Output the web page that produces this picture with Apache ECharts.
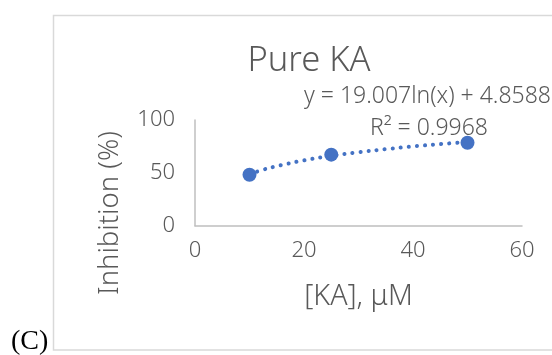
<!DOCTYPE html>
<html>
<head>
<meta charset="utf-8">
<script src="https://cdn.jsdelivr.net/npm/echarts@6/dist/echarts.min.js"></script>
<style>
html,body{margin:0;padding:0;background:#fff;}
#c{width:552px;height:355px;}
</style>
</head>
<body>
<div id="c"></div>
<script>
var titleText = "Pure KA";
var xName = "[KA], μM";
var yName = "Inhibition (%)";
var eqText = "y = 19.007ln(x) + 4.8588";
var r2Text = "R² = 0.9968";
var panelLabel = "(C)";
var concentrations = [10, 25, 50];
var inhibition = [48.2, 67.2, 78.5];
var trendX = [10, 12.5, 15, 20, 25, 30, 35, 40, 45, 50];
var trendY = [48.6, 52.9, 56.3, 61.8, 66.0, 69.5, 72.4, 75.0, 77.2, 79.2];
var xTicks = [0, 20, 40, 60];
var yTicks = [0, 50, 100];

var font = "'Noto Sans', sans-serif";
var w = '300 ';
var txt = "#595959";
var chart = echarts.init(document.getElementById('c'), null, {renderer: 'canvas'});
chart.setOption({
  animation: false,
  backgroundColor: '#fff',
  grid: {left: 195, right: 30, top: 120, bottom: 129.3, containLabel: false, outerBoundsMode: 'none'},
  xAxis: {
    type: 'value', min: xTicks[0], max: xTicks[xTicks.length - 1], interval: 20,
    axisLine: {show: true, lineStyle: {color: '#bfbfbf', width: 1.5}},
    axisTick: {show: false}, splitLine: {show: false},
    axisLabel: {color: txt, fontSize: 22, fontWeight: 300, fontFamily: font, margin: 14},
    name: xName, nameLocation: 'middle', nameGap: 57,
    nameTextStyle: {color: txt, fontSize: 28.5, fontWeight: 300, fontFamily: font}
  },
  yAxis: {
    type: 'value', min: yTicks[0], max: yTicks[yTicks.length - 1], interval: 50,
    axisLine: {show: true, lineStyle: {color: '#bfbfbf', width: 1.5}},
    axisTick: {show: false}, splitLine: {show: false},
    axisLabel: {color: txt, fontSize: 22, fontWeight: 300, fontFamily: font, margin: 20}
  },
  series: [
    {
      type: 'line', smooth: true, showSymbol: false, z: 1,
      data: trendX.map(function (x, i) { return [x, trendY[i]]; }),
      lineStyle: {color: '#4472C4', width: 4, type: [0.1, 8], cap: 'round'}
    },
    {
      type: 'scatter', symbol: 'circle', symbolSize: 14, z: 2,
      data: concentrations.map(function (x, i) { return [x, inhibition[i]]; }),
      itemStyle: {color: '#4472C4', opacity: 1}
    }
  ],
  graphic: [
    {type: 'rect', shape: {x: 53.5, y: 15.5, width: 600, height: 334.5},
     style: {fill: 'none', stroke: '#d9d9d9', lineWidth: 1.5}, silent: true},
    {type: 'text', style: {text: titleText, fill: txt, font: w + '34.5px ' + font, x: 309, y: 61, textAlign: 'center', textVerticalAlign: 'middle'}},
    {type: 'text', style: {text: eqText, fill: txt, font: w + '23px ' + font, x: 304, y: 96, textAlign: 'left', textVerticalAlign: 'middle'}},
    {type: 'text', style: {text: r2Text, fill: txt, font: w + '23px ' + font, x: 429, y: 128, textAlign: 'center', textVerticalAlign: 'middle'}},
    {type: 'text', x: 110, y: 213, rotation: Math.PI / 2, style: {text: yName, fill: txt, font: w + '27.5px ' + font, x: 0, y: 0, textAlign: 'center', textVerticalAlign: 'middle'}},
    {type: 'text', style: {text: panelLabel, fill: '#000', font: '28px "Liberation Serif", serif', x: 11, y: 342, textAlign: 'left', textVerticalAlign: 'middle'}}
  ]
});
</script>
</body>
</html>
